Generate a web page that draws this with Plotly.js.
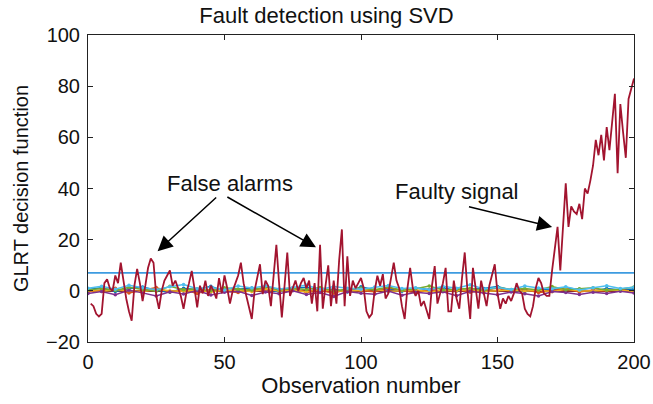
<!DOCTYPE html>
<html>
<head>
<meta charset="utf-8">
<script src="https://cdn.plot.ly/plotly-3.0.1.min.js"></script>
<style>html,body{margin:0;padding:0;background:#fff;}#chart{width:653px;height:404px;}</style>
</head>
<body>
<div id="chart"></div>
<script>
// Main GLRT decision function (observations 1..200)
var glrt = [
-5,-6,-9,-10,-9,3,4.5,1,0,6,
3,11,4,-3,-8,-11.7,2,8.6,3,-4,
2,9,12.6,11,-2,-7,0,4,6,8,
2,4,1,-2,-7,-1,3,7.8,1,-6.5,
2,-1,4,-2,2,0,-3,5,-1,6,
1,-5,0,3,6,11,3,-2,-6,-11,
0,6,10.4,-1.3,4,2,-6,6,18,3,
-10.4,2,15,-2,1,4,0,3,5,1,
4,-5,3,-8,18,-7,2,10,-6,4,
-5,12,24,-6,13.5,-2,4,1,3,5,
1,-8,-10.4,-9,0,5.9,2,6.5,-3,-1,
5,11,4,1,-6,-11,1,9,1,-2,
0,-6,-4,-8,-11,2,9.7,-5,-1,3,
9,-8,-8,4,-3,-7,5,15,0,-11,
9,1,-7,4,-1,-6,2,6,10.4,-1,
-7,-3,-5,-2,-4,-1,3,0,-1,-7,
-9,-10,-6,1,5,3,-1,-2,-2,8,
17,25,8,27,42,25,33,31,30,34,
28,40,38,43,49,59,53,61,51,64,
55,66,77,46,73,62,52,75,79,83
];
var obs = [];
for (var i = 0; i < glrt.length; i++) obs.push(i + 1);

// Threshold
var thrX = [0, 200];
var thrY = [7, 7];

// Small near-zero series (sampled every 5 observations)
var smallX = [];
for (var k = 0; k <= 200; k += 5) smallX.push(k);
var s1 = [0.5,1.2,-0.3,0.8,1.5,0.2,-0.6,1.0,0.4,1.8,-0.2,0.6,1.1,0.3,-0.4,0.9,1.4,0.1,0.7,-0.5,1.6,0.3,0.8,-0.2,1.0,0.5,1.3,-0.1,0.6,0.9,1.7,0.2,-0.3,0.8,0.4,1.2,0.6,-0.2,0.9,0.3,0.7];
var s2 = [-0.4,0.3,1.0,-0.8,0.2,1.3,-0.5,0.4,-1.0,0.6,0.1,-0.7,0.9,-0.3,0.5,1.1,-0.6,0.2,-0.9,0.7,0.0,-0.4,1.2,0.3,-0.8,0.5,-0.2,0.8,-0.6,0.4,1.0,-0.3,0.6,-0.7,0.2,0.9,-0.5,0.3,-0.1,0.6,-0.4];
var s3 = [0.2,-0.3,0.5,0.1,-0.4,0.6,0.0,-0.2,0.4,-0.5,0.3,0.1,-0.3,0.7,-0.1,0.2,-0.4,0.5,0.0,-0.2,0.3,0.6,-0.3,0.1,0.4,-0.5,0.2,0.0,0.5,-0.3,0.1,0.4,-0.2,0.3,-0.4,0.6,0.0,-0.1,0.3,0.2,-0.3];
var s4 = [-1.0,-0.3,-1.5,0.2,-0.8,-2.0,-0.4,-1.2,0.1,-1.6,-0.6,-0.2,-1.8,-0.5,-1.1,0.0,-1.4,-0.7,-2.2,-0.3,-0.9,-1.3,-0.1,-1.7,-0.6,-1.0,-0.4,-1.9,-0.2,-0.8,-1.5,-0.5,-1.1,-2.0,-0.3,-0.7,-1.4,-0.6,-1.0,-0.2,-0.8];
var s5 = [0.3,0.9,0.1,1.4,0.5,-0.2,1.8,0.4,0.8,0.0,1.2,0.6,0.2,1.6,0.3,0.9,0.5,1.3,-0.1,0.7,1.1,0.4,1.5,0.2,0.8,1.9,0.3,0.6,1.0,0.1,1.4,0.5,0.9,0.3,1.7,0.4,0.8,1.2,0.2,0.6,1.5];
var s6 = [1.0,1.8,0.6,2.2,1.2,0.4,1.6,2.5,0.8,1.4,0.3,1.9,1.1,2.0,0.7,1.3,2.3,0.5,1.7,1.0,0.6,1.5,2.1,0.9,1.2,0.4,1.8,1.0,2.4,0.7,1.3,0.5,1.9,1.1,0.8,1.6,0.3,1.2,2.0,0.9,1.4];

var smallSeries = [s1, s2, s3, s4, s5, s6];
var smallColors = ['#0072BD', '#D95319', '#EDB120', '#7E2F8E', '#77AC30', '#4DBEEE'];

var traces = [];
for (var j = 0; j < smallSeries.length; j++) {
  traces.push({x: smallX, y: smallSeries[j], type: 'scatter', mode: 'lines+markers',
    line: {color: smallColors[j], width: 1.5}, marker: {color: smallColors[j], size: 3.5},
    hoverinfo: 'skip'});
}
traces.push({x: thrX, y: thrY, type: 'scatter', mode: 'lines',
  line: {color: '#3d9be0', width: 1.8}});
traces.push({x: obs, y: glrt, type: 'scatter', mode: 'lines',
  line: {color: '#A2142F', width: 1.8}});

var F = 'Liberation Sans, Arial, sans-serif';
var layout = {
  width: 653, height: 404,
  margin: {l: 88, r: 19, t: 35, b: 62},
  showlegend: false,
  paper_bgcolor: '#fff', plot_bgcolor: '#fff',
  title: {text: 'Fault detection using SVD', font: {family: F, size: 22, color: '#111'},
    x: 0.5, xanchor: 'center', y: 0.962, yanchor: 'middle'},
  xaxis: {range: [0, 200], tickvals: [0, 50, 100, 150, 200], ticks: 'inside', ticklen: 5,
    tickcolor: '#222', showline: true, linecolor: '#222', linewidth: 1, mirror: 'ticks',
    showgrid: false, zeroline: false, ticklabelstandoff: 2,
    tickfont: {family: F, size: 20, color: '#111'},
    title: {text: 'Observation number', font: {family: F, size: 22, color: '#111'}, standoff: 3}},
  yaxis: {range: [-20, 100], tickvals: [-20, 0, 20, 40, 60, 80, 100], ticks: 'inside', ticklen: 5,
    tickcolor: '#222', showline: true, linecolor: '#222', linewidth: 1, mirror: 'ticks',
    showgrid: false, zeroline: true, zerolinecolor: '#8a2a2a', zerolinewidth: 1.5,
    ticklabelstandoff: 3,
    tickfont: {family: F, size: 20, color: '#111'},
    title: {text: 'GLRT decision function', font: {family: F, size: 20, color: '#111'}, standoff: 12}},
  annotations: [
    {x: 52, y: 42, xref: 'x', yref: 'y', text: 'False alarms', showarrow: false,
      font: {family: F, size: 22, color: '#111'}},
    {x: 135, y: 39, xref: 'x', yref: 'y', text: 'Faulty signal', showarrow: false,
      font: {family: F, size: 22, color: '#111'}},
    {x: 25.5, y: 15.5, ax: 47.5, ay: 37, xref: 'x', yref: 'y', axref: 'x', ayref: 'y',
      text: '', showarrow: true, arrowhead: 2, arrowsize: 2, arrowwidth: 1.5, arrowcolor: '#000'},
    {x: 83.5, y: 17, ax: 50.5, ay: 37, xref: 'x', yref: 'y', axref: 'x', ayref: 'y',
      text: '', showarrow: true, arrowhead: 2, arrowsize: 2, arrowwidth: 1.5, arrowcolor: '#000'},
    {x: 170, y: 25, ax: 139, ay: 33, xref: 'x', yref: 'y', axref: 'x', ayref: 'y',
      text: '', showarrow: true, arrowhead: 2, arrowsize: 2, arrowwidth: 1.5, arrowcolor: '#000'}
  ]
};

Plotly.newPlot('chart', traces, layout, {displayModeBar: false, staticPlot: true});
</script>
</body>
</html>
